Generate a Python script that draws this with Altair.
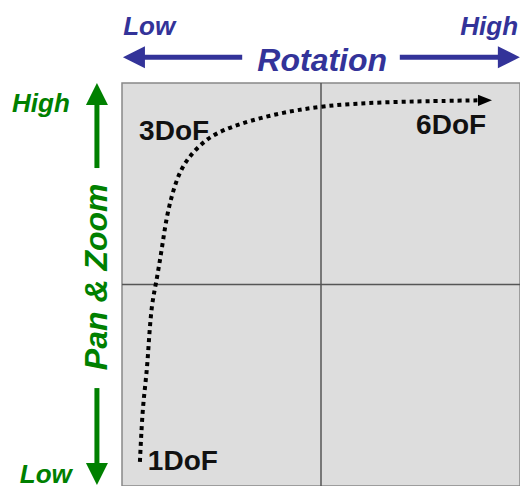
import altair as alt
import pandas as pd

# --- data (axis units 0..10) ---
curve_x = [0.45, 0.48, 0.53, 0.63, 0.68, 0.75, 0.85, 1.01, 1.13, 1.38, 1.66, 2.14, 2.71, 3.72, 5.08, 6.66, 8.32, 8.94]
curve_y = [0.60, 1.22, 2.06, 2.88, 3.70, 4.54, 4.99, 5.93, 6.77, 7.67, 8.16, 8.64, 8.91, 9.21, 9.45, 9.53, 9.56, 9.57]

dof_labels = ["1DoF", "3DoF", "6DoF"]
dof_x = [0.65, 0.43, 7.39]
dof_y = [0.40, 8.59, 8.73]

quad_x = [5]
quad_y = [5]

# arrow shafts (horizontal blue, vertical green)
hshaft_x = [0.45, 6.98]
hshaft_x2 = [3.02, 9.62]
hshaft_y = [10.64, 10.64]
vshaft_y = [9.58, 2.43]
vshaft_y2 = [7.89, 0.40]
vshaft_x = [-0.63, -0.63]

head_x = [0.30, 9.72, -0.63, -0.63]
head_y = [10.64, 10.64, 9.73, 0.30]
head_angle = [270, 90, 0, 180]
head_color = ["#333399", "#333399", "#008000", "#008000"]

curve_head_x = [9.12]
curve_head_y = [9.57]

BLUE = "#333399"
GREEN = "#008000"
FONT = "Liberation Sans"

xs = alt.Scale(domain=[0, 10], nice=False, zero=False)
ys = alt.Scale(domain=[0, 10], nice=False, zero=False)


def X(f):
    return alt.X(f, type="quantitative", scale=xs, axis=None)


def Y(f):
    return alt.Y(f, type="quantitative", scale=ys, axis=None)


vline = alt.Chart(pd.DataFrame({"x": quad_x})).mark_rule(color="#555555", strokeWidth=1.5).encode(x=X("x"))
hline = alt.Chart(pd.DataFrame({"y": quad_y})).mark_rule(color="#555555", strokeWidth=1.5).encode(y=Y("y"))

curve = alt.Chart(pd.DataFrame({"x": curve_x, "y": curve_y, "o": list(range(len(curve_x)))})).mark_line(
    color="black", strokeWidth=4, strokeDash=[4, 4], strokeCap="butt", interpolate="basis"
).encode(x=X("x"), y=Y("y"), order="o:Q")

curve_head = alt.Chart(pd.DataFrame({"x": curve_head_x, "y": curve_head_y})).mark_point(
    shape="M0,-1L0.8,1L-0.8,1Z", filled=True, color="black", opacity=1, size=196, angle=90
).encode(x=X("x"), y=Y("y"))

dof = alt.Chart(pd.DataFrame({"t": dof_labels, "x": dof_x, "y": dof_y})).mark_text(
    font=FONT, fontSize=28, fontWeight="bold", align="left", baseline="alphabetic", color="#111111"
).encode(x=X("x"), y=Y("y"), text="t:N")

hshaft = alt.Chart(pd.DataFrame({"x": hshaft_x, "x2": hshaft_x2, "y": hshaft_y})).mark_rule(
    color=BLUE, strokeWidth=5
).encode(x=X("x"), x2="x2", y=Y("y"))

vshaft = alt.Chart(pd.DataFrame({"x": vshaft_x, "y": vshaft_y, "y2": vshaft_y2})).mark_rule(
    color=GREEN, strokeWidth=5
).encode(x=X("x"), y=Y("y"), y2="y2")

heads = alt.Chart(pd.DataFrame({"x": head_x, "y": head_y, "a": head_angle, "c": head_color})).mark_point(
    shape="M0,-1L1,1L-1,1Z", filled=True, opacity=1, size=484
).encode(
    x=X("x"), y=Y("y"),
    angle=alt.Angle("a:Q", scale=None),
    color=alt.Color("c:N", scale=None),
)

top_low = alt.Chart(pd.DataFrame({"t": ["Low"], "x": [0.03], "y": [11.19]})).mark_text(
    font=FONT, fontSize=26, fontWeight="bold", fontStyle="italic", align="left", baseline="alphabetic", color=BLUE
).encode(x=X("x"), y=Y("y"), text="t:N")
top_high = alt.Chart(pd.DataFrame({"t": ["High"], "x": [9.95], "y": [11.19]})).mark_text(
    font=FONT, fontSize=26, fontWeight="bold", fontStyle="italic", align="right", baseline="alphabetic", color=BLUE
).encode(x=X("x"), y=Y("y"), text="t:N")
rotation = alt.Chart(pd.DataFrame({"t": ["Rotation"], "x": [5.03], "y": [10.30]})).mark_text(
    font=FONT, fontSize=32, fontWeight="bold", fontStyle="italic", align="center", baseline="alphabetic", color=BLUE
).encode(x=X("x"), y=Y("y"), text="t:N")

left_hl = alt.Chart(pd.DataFrame({"t": ["High", "Low"], "x": [-1.31, -1.26], "y": [9.28, 0.07]})).mark_text(
    font=FONT, fontSize=26, fontWeight="bold", fontStyle="italic", align="right", baseline="alphabetic", color=GREEN
).encode(x=X("x"), y=Y("y"), text="t:N")
panzoom = alt.Chart(pd.DataFrame({"t": ["Pan & Zoom"], "x": [-0.63], "y": [5.19]})).mark_text(
    font=FONT, fontSize=32, fontWeight="bold", fontStyle="italic", align="center", baseline="middle",
    angle=270, color=GREEN
).encode(x=X("x"), y=Y("y"), text="t:N")

chart = alt.layer(
    vline, hline, curve, curve_head, dof, hshaft, vshaft, heads, top_low, top_high, rotation, left_hl, panzoom
).properties(
    width=398, height=403,
    autosize=alt.AutoSizeParams(type="none"),
    padding={"left": 114, "top": 75, "right": 0, "bottom": 0},
    background="white",
).configure_view(
    fill="#dddddd", stroke="#888888", strokeWidth=1.5
)

chart.save("out.html", embed_options={"renderer": "svg", "actions": False})
